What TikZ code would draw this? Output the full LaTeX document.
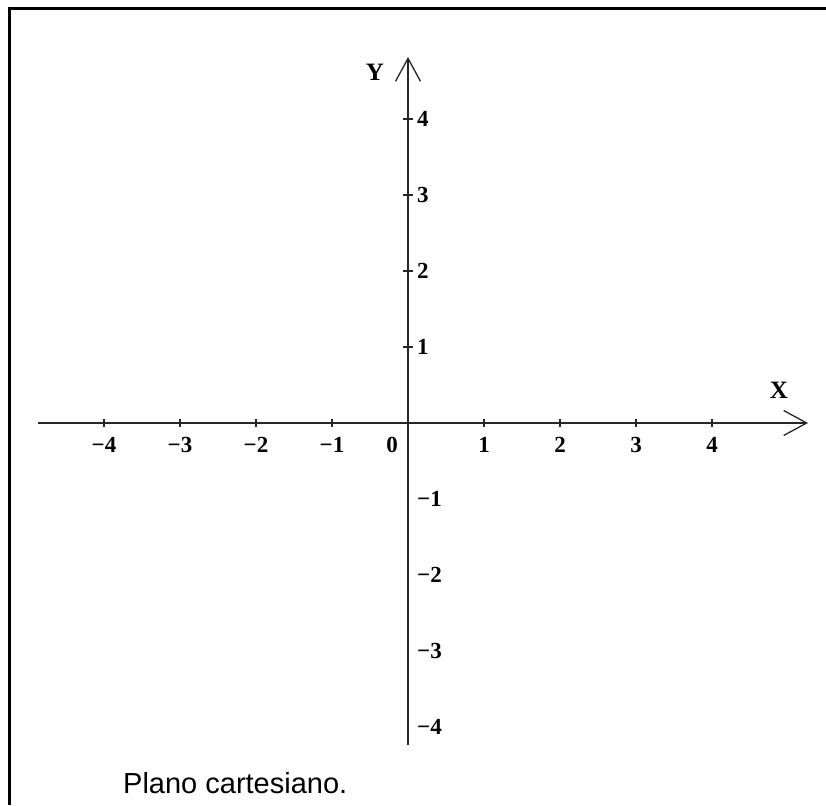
\documentclass[tikz,border=0pt]{standalone}
\usepackage{fontspec}
\setmainfont{Liberation Serif}
\newfontfamily\capfont{Liberation Sans}
\usetikzlibrary{arrows.meta}
\tikzset{
  axisline/.style={line width=1.6pt, draw=black!85, -{Straight Barb[length=23pt,width=25pt,line width=1.3pt]}},
  tickmark/.style={line width=1.3pt, draw=black!85},
  numlab/.style={font=\fontsize{23}{25}\selectfont\bfseries, inner sep=0pt},
  axlab/.style={font=\fontsize{25}{27}\selectfont\bfseries, inner sep=0pt},
  caption/.style={font=\capfont\fontsize{29}{32}\selectfont, inner sep=0pt, anchor=west}
}
\begin{document}
\begin{tikzpicture}[x=1pt,y=-1pt]
\useasboundingbox (0,0) rectangle (826,805);
\draw[line width=3pt] (9,805) -- (9,9) -- (826,9);
\coordinate (xs) at (38,423);
\coordinate (xe) at (808,423);
\coordinate (ys) at (408,745);
\coordinate (ye) at (408,57);
\draw[axisline] (xs) -- (xe);
\draw[axisline] (ys) -- (ye);
% x ticks
\foreach \k/\t in {-4/−4,-3/−3,-2/−2,-1/−1,1/1,2/2,3/3,4/4} {
  \coordinate (xt\k) at ({408+76*\k},423);
  \draw[tickmark] ([yshift=-4pt]xt\k) -- ([yshift=4pt]xt\k);
  \node[numlab] (xl\k) at ({408+76*\k},445) {\t};
}
\node[numlab] (zero) at (392,445) {0};
% y ticks positive
\foreach \k in {1,2,3,4} {
  \coordinate (yt\k) at (408,{423-76*\k});
  \draw[tickmark] ([xshift=-5pt]yt\k) -- ([xshift=5pt]yt\k);
  \node[numlab, anchor=west] (yl\k) at (417,{423-76*\k}) {\k};
}
\foreach \k/\t in {1/−1,2/−2,3/−3,4/−4} {
  \node[numlab, anchor=west] (ylm\k) at (417,{423+76*\k}) {\t};
}
\node[axlab] (Y) at (375,72) {Y};
\node[axlab] (X) at (779,390) {X};
\node[caption] (cap) at (123,783) {Plano cartesiano.};
\end{tikzpicture}
\end{document}
